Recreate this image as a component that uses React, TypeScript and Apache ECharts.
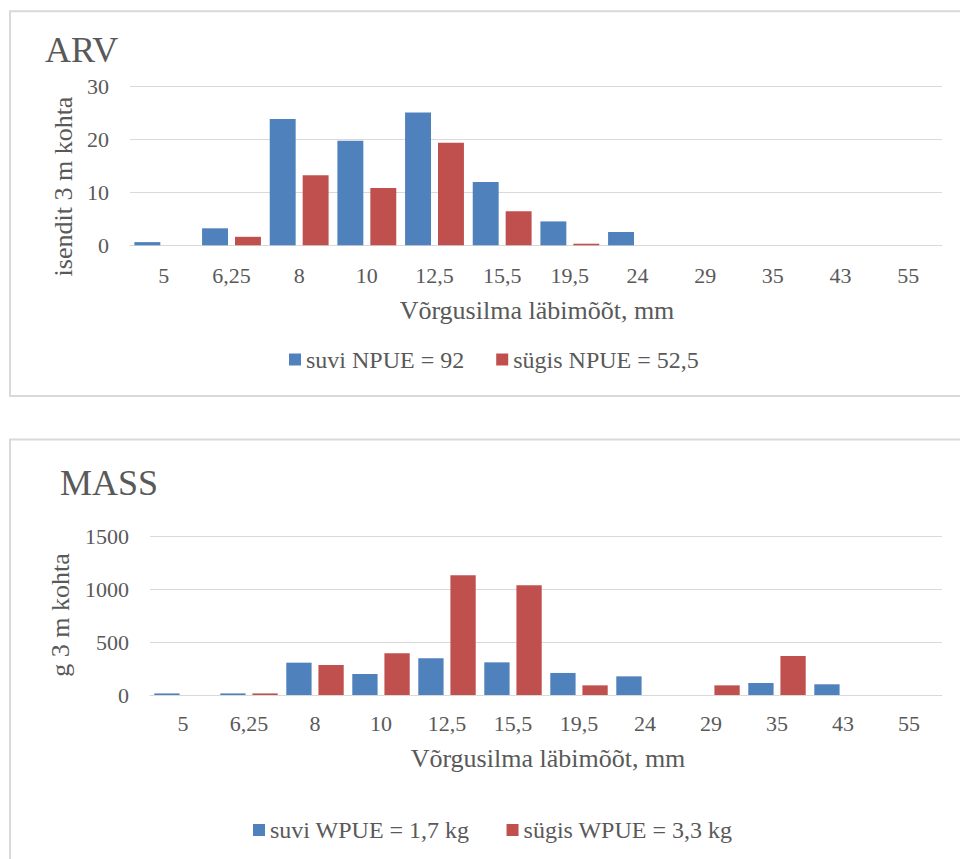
import React, { useEffect, useRef } from "react";
import * as echarts from "echarts";

// Mesh sizes (mm) shared by both panels
const categories = ["5", "6,25", "8", "10", "12,5", "15,5", "19,5", "24", "29", "35", "43", "55"];

// ARV: individuals per 3 m of net
const arvSuvi = [0.6, 3.2, 23.8, 19.7, 25.0, 11.9, 4.5, 2.5, 0, 0, 0, 0];
const arvSygis = [0, 1.6, 13.2, 10.8, 19.3, 6.4, 0.3, 0, 0, 0, 0, 0];

// MASS: grams per 3 m of net
const massSuvi = [15, 15, 305, 198, 346, 308, 208, 176, 0, 113, 101, 0];
const massSygis = [0, 15, 283, 393, 1129, 1035, 91, 0, 91, 368, 0, 0];

const arvTicks = { min: 0, max: 30, interval: 10 };
const massTicks = { min: 0, max: 1500, interval: 500 };

const seriesNames = {
  arvSuvi: "suvi NPUE = 92",
  arvSygis: "sügis NPUE = 52,5",
  massSuvi: "suvi WPUE = 1,7 kg",
  massSygis: "sügis WPUE = 3,3 kg",
};

const BLUE = "#4F81BD";
const RED = "#C0504D";
const TEXT = "#595959";
const GRID = "#D9D9D9";
const FONT = "Liberation Serif, Times New Roman, serif";

function label(text: string, x: number, y: number, size: number, rotation = 0, align = "center") {
  return {
    type: "text",
    x,
    y,
    rotation,
    silent: true,
    style: {
      text,
      fontSize: size,
      fontFamily: FONT,
      fill: TEXT,
      align,
      verticalAlign: "middle",
      textAlign: align,
      textVerticalAlign: "middle",
    },
  };
}

export default function App() {
  const ref = useRef<HTMLDivElement>(null);

  useEffect(() => {
    if (!ref.current) return;
    const chart = echarts.init(ref.current, null, { renderer: "svg" });

    const xAxisBase = (gridIndex: number, margin: number) => ({
      type: "category",
      gridIndex,
      data: categories,
      axisLine: { show: true, lineStyle: { color: GRID, width: 1 } },
      axisTick: { show: false },
      axisLabel: { color: TEXT, fontFamily: FONT, fontSize: 22, margin },
    });

    const yAxisBase = (gridIndex: number, ticks: { min: number; max: number; interval: number }) => ({
      type: "value",
      gridIndex,
      ...ticks,
      axisLine: { show: false },
      axisTick: { show: false },
      axisLabel: {
        color: TEXT,
        fontFamily: FONT,
        fontSize: 22,
        margin: 21,
        formatter: (v: number) => String(v),
      },
      splitLine: { lineStyle: { color: GRID, width: 1 } },
    });

    const bar = (name: string, data: number[], color: string, idx: number) => ({
      type: "bar",
      name,
      data,
      xAxisIndex: idx,
      yAxisIndex: idx,
      barGap: "27%",
      barCategoryGap: "13%",
      itemStyle: { color },
    });

    const legendBase = {
      orient: "horizontal",
      itemWidth: 12,
      itemHeight: 12,
      icon: "rect",
      textStyle: { color: TEXT, fontFamily: FONT, fontSize: 24, lineHeight: 24 },
      selectedMode: false,
    };

    chart.setOption({
      animation: false,
      backgroundColor: "#ffffff",
      grid: [
        { left: 130, right: 18, top: 86, height: 159.3 },
        { left: 150, right: 18, top: 536, height: 159 },
      ],
      xAxis: [xAxisBase(0, 19), xAxisBase(1, 17)],
      yAxis: [yAxisBase(0, arvTicks), yAxisBase(1, massTicks)],
      legend: [
        {
          ...legendBase,
          left: 284,
          top: 342.5,
          itemGap: 32,
          data: [seriesNames.arvSuvi, seriesNames.arvSygis],
        },
        {
          ...legendBase,
          left: 248,
          top: 813,
          itemGap: 37,
          data: [seriesNames.massSuvi, seriesNames.massSygis],
        },
      ],
      series: [
        bar(seriesNames.arvSuvi, arvSuvi, BLUE, 0),
        bar(seriesNames.arvSygis, arvSygis, RED, 0),
        bar(seriesNames.massSuvi, massSuvi, BLUE, 1),
        bar(seriesNames.massSygis, massSygis, RED, 1),
      ],
      graphic: [
        {
          type: "rect",
          silent: true,
          shape: { x: 10, y: 11.3, width: 1000, height: 384.7 },
          style: { fill: "none", stroke: GRID, lineWidth: 2 },
        },
        {
          type: "rect",
          silent: true,
          shape: { x: 10, y: 439.5, width: 1000, height: 500 },
          style: { fill: "none", stroke: GRID, lineWidth: 2 },
        },
        label("ARV", 45, 49.5, 36, 0, "left"),
        label("MASS", 60, 482.5, 36, 0, "left"),
        label("isendit 3 m kohta", 63, 186.5, 26, Math.PI / 2),
        label("g 3 m kohta", 60, 615, 26, Math.PI / 2),
        label("Võrgusilma läbimõõt, mm", 537, 310, 26),
        label("Võrgusilma läbimõõt, mm", 548, 758, 26),
      ],
    });

    return () => chart.dispose();
  }, []);

  return (
    <div
      ref={ref}
      style={{ position: "absolute", left: 0, top: 0, width: 960, height: 859, background: "#fff" }}
    />
  );
}
